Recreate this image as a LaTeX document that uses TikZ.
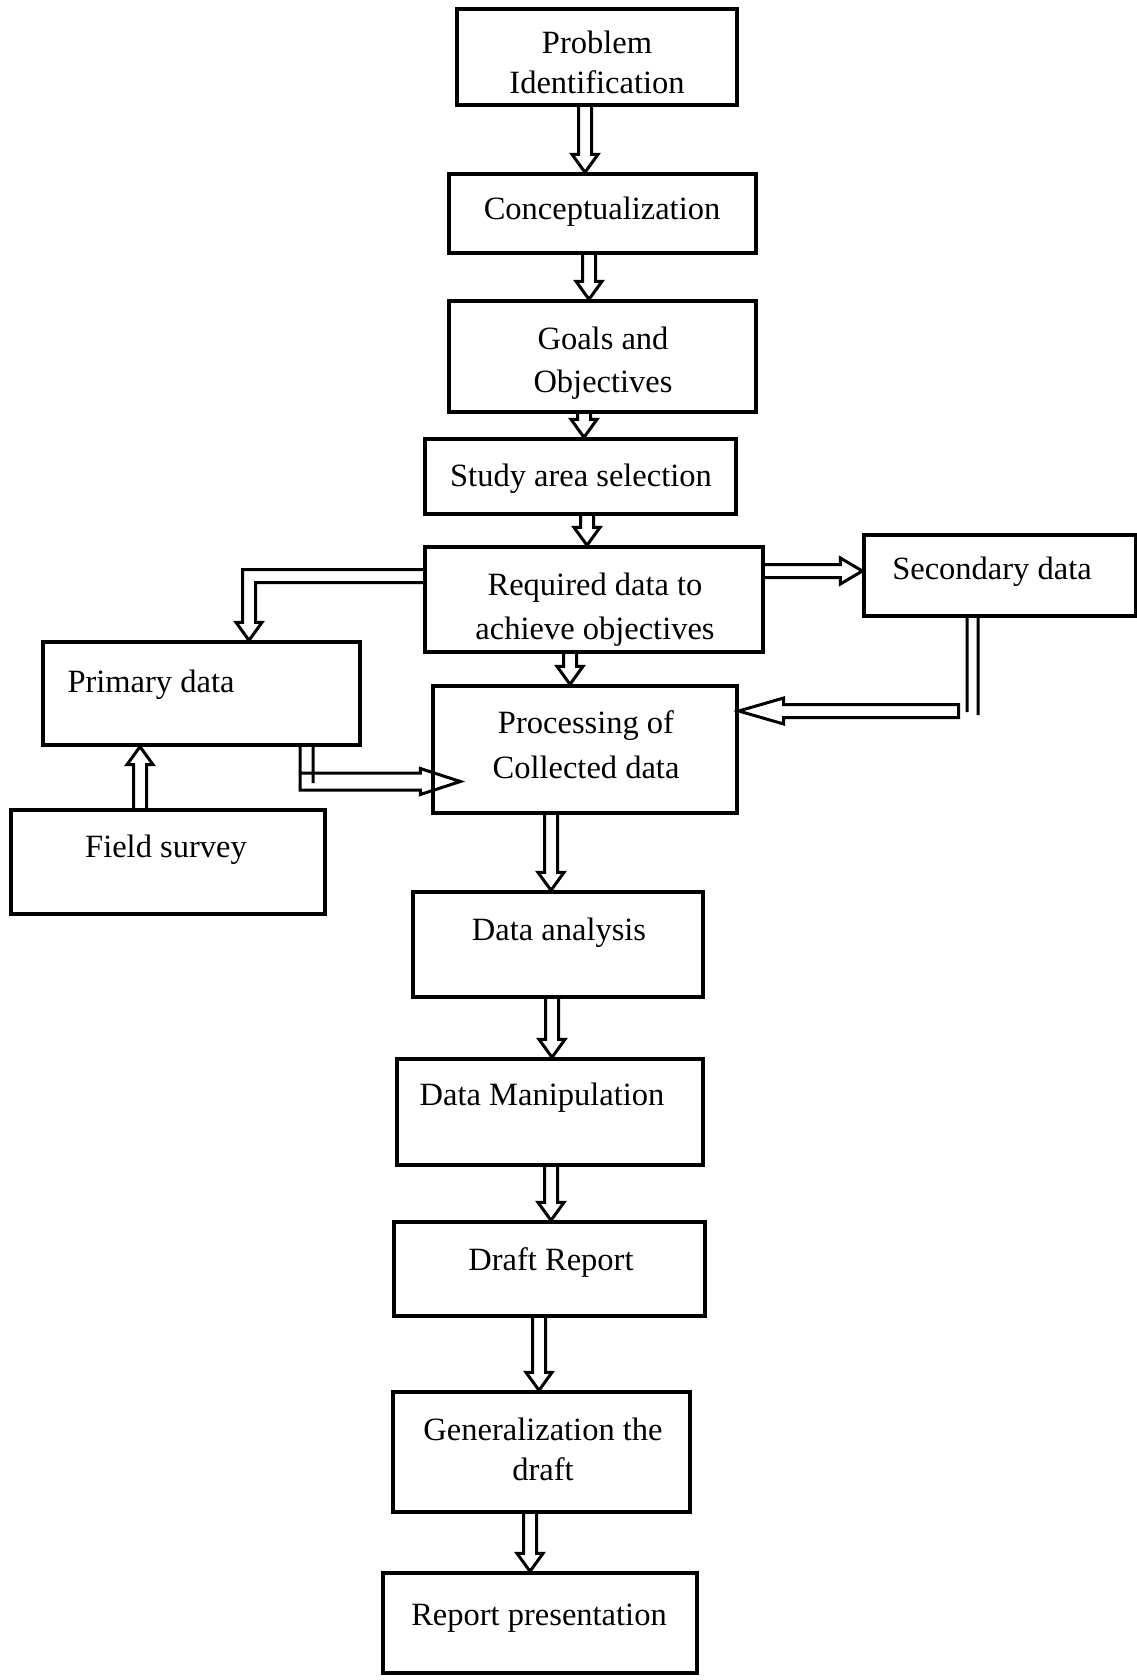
\documentclass[tikz,border=0pt]{standalone}
\usepackage{fontspec}
\setmainfont{Liberation Serif}
\usetikzlibrary{calc}
\def\sw{6.5pt}
\def\hw{13pt}
\def\hl{18pt}
% vertical down block arrow: #1 x, #2 start anchor, #3 end anchor
\newcommand\BlkDown[3]{\draw[conn] let \p1=(#1,0 |- #2), \p2=(#1,0 |- #3) in
  (\x1-\sw,\y1) -- (\x1-\sw,\y2+\hl) -- (\x1-\hw,\y2+\hl) -- (\x1,\y2) --
  (\x1+\hw,\y2+\hl) -- (\x1+\sw,\y2+\hl) -- (\x1+\sw,\y1);}
\newcommand\BlkUp[3]{\draw[conn] let \p1=(#1,0 |- #2), \p2=(#1,0 |- #3) in
  (\x1-\sw,\y1) -- (\x1-\sw,\y2-\hl) -- (\x1-\hw,\y2-\hl) -- (\x1,\y2) --
  (\x1+\hw,\y2-\hl) -- (\x1+\sw,\y2-\hl) -- (\x1+\sw,\y1);}
\newcommand\BlkRight[3]{\draw[conn] let \p1=(#2 |- 0,#1), \p2=(#3 |- 0,#1) in
  (\x1,\y1+\sw) -- (\x2-22pt,\y1+\sw) -- (\x2-22pt,\y1+\hw) -- (\x2,\y1) --
  (\x2-22pt,\y1-\hw) -- (\x2-22pt,\y1-\sw) -- (\x1,\y1-\sw);}
\tikzset{
  box/.style={draw, line width=3.3pt, rectangle, inner sep=0pt},
  lbl/.style={anchor=base, inner sep=0pt, font=\fontsize{32.5}{39}\selectfont},
  conn/.style={draw, line width=3pt, line join=miter},
}
\begin{document}
\begin{tikzpicture}[x=1pt,y=-1pt]
\fill[white] (0,0) rectangle (1136,1680);
\useasboundingbox (0,0) rectangle (1136,1680);

% boxes
\node[box, minimum width=280pt, minimum height=96pt]  (pi) at (597,57) {};
\node[box, minimum width=307pt, minimum height=79pt]  (co) at (602.5,213.5) {};
\node[box, minimum width=307pt, minimum height=111pt] (go) at (602.5,356.5) {};
\node[box, minimum width=311pt, minimum height=75pt]  (st) at (580.5,476.5) {};
\node[box, minimum width=338pt, minimum height=105pt] (rq) at (594,599.5) {};
\node[box, minimum width=272pt, minimum height=81pt]  (se) at (1000,575.5) {};
\node[box, minimum width=317pt, minimum height=103pt] (pr) at (201.5,693.5) {};
\node[box, minimum width=304pt, minimum height=127pt] (pc) at (585,749.5) {};
\node[box, minimum width=314pt, minimum height=104pt] (fs) at (168,862) {};
\node[box, minimum width=290pt, minimum height=105pt] (da) at (558,944.5) {};
\node[box, minimum width=306pt, minimum height=106pt] (dm) at (550,1112) {};
\node[box, minimum width=311pt, minimum height=94pt]  (dr) at (549.5,1269) {};
\node[box, minimum width=297pt, minimum height=120pt] (ge) at (541.5,1452) {};
\node[box, minimum width=314pt, minimum height=100pt] (rp) at (540,1623) {};

% labels
\node[lbl] (t1a) at (597,54) {Problem};
\node[lbl] (t1b) at (597,94) {Identification};
\node[lbl] (t2) at (602,220) {Conceptualization};
\node[lbl] (t3a) at (603,349) {Goals and};
\node[lbl] (t3b) at (603,392) {Objectives};
\node[lbl] (t4) at (581,486) {Study area selection};
\node[lbl] (t5a) at (595,595) {Required data to};
\node[lbl] (t5b) at (595,639) {achieve objectives};
\node[lbl] (t6) at (992,579) {Secondary data};
\node[lbl] (t7) at (151,692) {Primary data};
\node[lbl] (t8a) at (586,733) {Processing of};
\node[lbl] (t8b) at (586,778) {Collected data};
\node[lbl] (t9) at (166,857) {Field survey};
\node[lbl] (t10) at (559,940) {Data analysis};
\node[lbl] (t11) at (542,1105) {Data Manipulation};
\node[lbl] (t12) at (551,1270) {Draft Report};
\node[lbl] (t13a) at (543,1440) {Generalization the};
\node[lbl] (t13b) at (543,1480) {draft};
\node[lbl] (t14) at (539,1625) {Report presentation};

% main vertical chain
\BlkDown{585}{pi.south}{co.north}
\BlkDown{589}{co.south}{go.north}
\BlkDown{584}{go.south}{st.north}
\BlkDown{587}{st.south}{rq.north}
\BlkDown{570}{rq.south}{pc.north}
\BlkDown{551}{pc.south}{da.north}
\BlkDown{552}{da.south}{dm.north}
\BlkDown{551}{dm.south}{dr.north}
\BlkDown{539}{dr.south}{ge.north}
\BlkDown{530}{ge.south}{rp.north}

% required -> secondary
\BlkRight{571}{rq.east}{se.west}

% required -> primary (elbow)
\draw[conn] let \p1=(rq.west |- 0,576), \p2=(249,0 |- pr.north) in
  (\x1,\y1+\sw) -- (\x2-\sw,\y1+\sw) -- (\x2-\sw,\y2+\hl) -- (\x2-\hw,\y2+\hl) --
  (\x2,\y2) -- (\x2+\hw,\y2+\hl) -- (\x2+\sw,\y2+\hl) -- (\x2+\sw,\y1-\sw) -- (\x1,\y1-\sw);

% field survey -> primary
\BlkUp{140}{fs.north}{pr.south}

% primary -> processing
\draw[conn] let \p1=(306.5,0 |- pr.south), \p2=([xshift=29pt]pc.west |- 0,781.5) in
  (\x1-6.5pt,\y1) -- (\x1-6.5pt,\y2+8.5pt)
  (\x1+6.5pt,\y1) -- (\x1+6.5pt,\y2-1.5pt)
  (\x1-6.5pt,\y2+8.5pt) -- (\x2-40pt,\y2+8.5pt) -- (\x2-40pt,\y2+\hw) -- (\x2,\y2) --
  (\x2-40pt,\y2-\hw) -- (\x2-40pt,\y2-8.5pt) -- (\x1-6.5pt,\y2-8.5pt) -- cycle;

% secondary -> processing
\draw[conn] let \p1=(972.5,0 |- se.south), \p2=(pc.east |- 0,711) in
  (\x1-5.5pt,\y1) -- (\x1-5.5pt,\y2-1pt)
  (\x1+5.5pt,\y1) -- (\x1+5.5pt,\y2-4pt)
  (\x1-14pt,\y2+\sw) -- (\x2+45pt,\y2+\sw) -- (\x2+45pt,\y2+\hw) -- (\x2,\y2) --
  (\x2+45pt,\y2-\hw) -- (\x2+45pt,\y2-\sw) -- (\x1-14pt,\y2-\sw) -- cycle;
\end{tikzpicture}
\end{document}
